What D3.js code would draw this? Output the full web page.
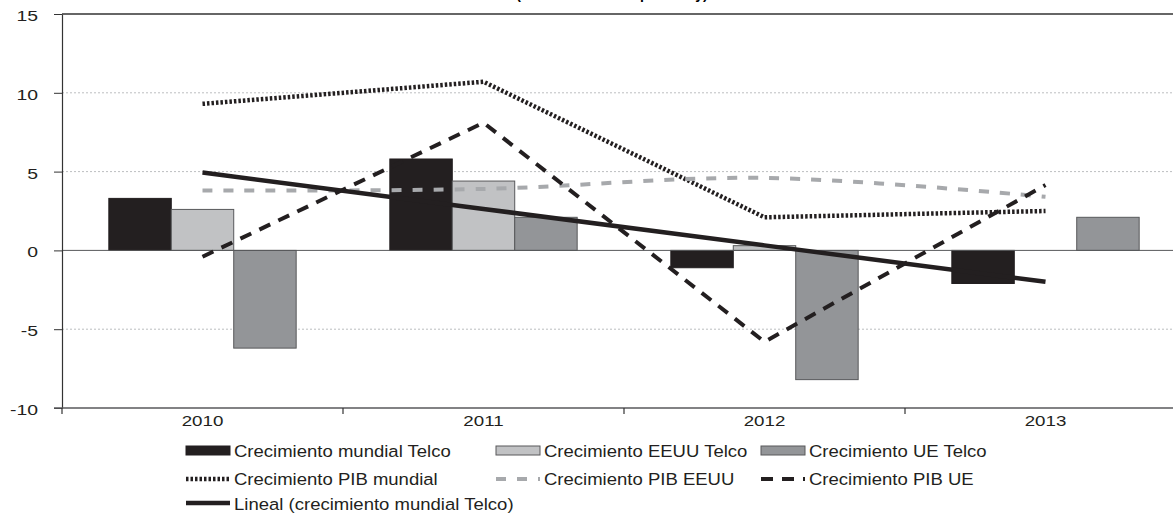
<!DOCTYPE html>
<html>
<head>
<meta charset="utf-8">
<script src="https://cdn.jsdelivr.net/npm/d3@7"></script>
<style>
  body { margin: 0; background: #fff; }
  svg { display: block; font-family: "Liberation Sans", Arial, sans-serif; }
</style>
</head>
<body>
<svg id="chart" width="1173" height="513"></svg>
<script>
// data
var years       = ['2010', '2011', '2012', '2013'];
var telcoWorld  = [3.3, 5.8, -1.1, -2.1];
var telcoUS     = [2.6, 4.4, 0.3, 0];
var telcoEU     = [-6.2, 2.1, -8.2, 2.1];
var gdpWorld    = [9.3, 10.7, 2.1, 2.5];
var gdpUS       = [3.8, 3.9, 4.6, 3.4];
var gdpEU       = [-0.4, 8.1, -5.8, 4.15];
var yTicks      = [-10, -5, 0, 5, 10, 15];
var barNames    = ['Crecimiento mundial Telco', 'Crecimiento EEUU Telco', 'Crecimiento UE Telco'];
var lineNames   = ['Crecimiento PIB mundial', 'Crecimiento PIB EEUU', 'Crecimiento PIB UE'];
var trendName   = 'Lineal (crecimiento mundial Telco)';
var title       = '(% de crecimiento por año y)';

var BLACK = '#231f20', LIGHT = '#c1c2c4', MID = '#939598', DGREY = '#a7a9ac';

var svg = d3.select('#chart');
var margin = {left: 62, top: 14, bottom: 105};
var plotW = 4 * 281, plotH = 513 - margin.top - margin.bottom;

var g = svg.append('g').attr('transform', 'translate(' + margin.left + ',' + margin.top + ')');

var x = d3.scaleBand().domain(years).range([0, plotW]);
var xs = d3.scaleBand().domain([0, 1, 2]).range([0, x.bandwidth()]).paddingOuter(0.75);
var y = d3.scaleLinear().domain([-10, 15]).range([plotH, 0]);

function stretch(sel, sx) {
    sel.each(function () {
        var t = d3.select(this);
        var tx = +t.attr('x') || 0, ty = +t.attr('y') || 0;
        t.attr('x', 0).attr('y', 0)
         .attr('transform', 'translate(' + tx + ',' + ty + ') scale(' + sx + ',1)');
    });
}

// title: the reference only shows the bottom of it, cut by the top edge
svg.append('text')
   .attr('x', 612).attr('y', -1)
   .attr('text-anchor', 'middle')
   .attr('font-weight', 'bold')
   .attr('font-size', 14)
   .text(title);

// dotted grid
g.selectAll('.grid')
 .data(yTicks.filter(function (d) { return d != 0 && d != 15 && d != -10; }))
 .enter().append('line')
   .attr('x1', 0).attr('x2', plotW)
   .attr('y1', function (d) { return y(d); })
   .attr('y2', function (d) { return y(d); })
   .attr('stroke', '#bcbec0').attr('stroke-width', 1)
   .attr('stroke-dasharray', '2,2');

// top border
g.append('line')
 .attr('x1', 0).attr('x2', plotW)
 .attr('y1', y(15)).attr('y2', y(15))
 .attr('stroke', '#333').attr('stroke-width', 1.5);

// bars
var series = [telcoWorld, telcoUS, telcoEU];
var fills  = [BLACK, LIGHT, MID];
var strokes = [BLACK, '#58595b', '#58595b'];
series.forEach(function (vals, s) {
    g.selectAll('.bar' + s)
     .data(vals)
     .enter().append('rect')
       .attr('x', function (d, i) { return x(years[i]) + xs(s); })
       .attr('y', function (d) { return y(Math.max(0, d)); })
       .attr('width', xs.bandwidth())
       .attr('height', function (d) { return Math.abs(y(d) - y(0)); })
       .attr('fill', fills[s])
       .attr('stroke', strokes[s]).attr('stroke-width', 1)
       .style('display', function (d) { return d == 0 ? 'none' : null; });
});

// zero line
g.append('line')
 .attr('x1', 0).attr('x2', plotW)
 .attr('y1', y(0)).attr('y2', y(0))
 .attr('stroke', '#58595b').attr('stroke-width', 1);

// y axis
var ya = g.append('g')
          .call(d3.axisLeft(y).tickValues(yTicks).tickSize(8).tickSizeOuter(0)
                  .tickFormat(function (d) { return String(d); }));
ya.select('.domain').attr('stroke', '#333').attr('stroke-width', 1.2);
ya.selectAll('.tick line').attr('stroke', '#333');
ya.selectAll('.tick text')
  .attr('font-size', 15.5).attr('fill', BLACK)
  .attr('font-family', '"Liberation Sans", Arial, sans-serif')
  .attr('x', -24).attr('dy', null).attr('y', 6.5)
  .call(stretch, 1.25);

// x axis
var xa = g.append('g')
          .attr('transform', 'translate(0,' + plotH + ')')
          .call(d3.axisBottom(x).tickSize(0).tickSizeOuter(0));
xa.select('.domain').attr('stroke', '#58595b').attr('stroke-width', 1.5)
  .attr('d', 'M-8,0H' + plotW);
xa.selectAll('.tick text')
  .attr('font-size', 15).attr('fill', BLACK)
  .attr('font-family', '"Liberation Sans", Arial, sans-serif')
  .attr('dy', null).attr('y', 17.5)
  .call(stretch, 1.25);
xa.selectAll('.sep')
  .data(years)
  .enter().append('line')
    .attr('x1', function (d) { return x(d); })
    .attr('x2', function (d) { return x(d); })
    .attr('y1', 0).attr('y2', 6)
    .attr('stroke', '#333').attr('stroke-width', 1.2);

// lines
var cx = function (d, i) { return x(years[i]) + x.bandwidth() / 2; };
var line = d3.line().x(cx).y(function (d) { return y(d); });
var smooth = d3.line().x(cx).y(function (d) { return y(d); }).curve(d3.curveCatmullRom);

var lineStyles = [
    {data: gdpWorld, color: BLACK, width: 4.5, dash: '2.5,2', gen: line},
    {data: gdpUS,    color: DGREY, width: 4,   dash: '10,11', gen: smooth},
    {data: gdpEU,    color: BLACK, width: 4,   dash: '12,9',  gen: line}
];
lineStyles.forEach(function (l) {
    g.append('path')
     .attr('d', l.gen(l.data))
     .attr('fill', 'none')
     .attr('stroke', l.color)
     .attr('stroke-width', l.width)
     .attr('stroke-dasharray', l.dash);
});

// linear trend of world telco growth
var n = telcoWorld.length;
var mx = (n + 1) / 2, my = d3.mean(telcoWorld);
var sxy = 0, sxx = 0;
telcoWorld.forEach(function (v, i) {
    sxy += (i + 1 - mx) * (v - my);
    sxx += (i + 1 - mx) * (i + 1 - mx);
});
var slope = sxy / sxx;
var trend = telcoWorld.map(function (v, i) { return my + slope * (i + 1 - mx); });
g.append('path')
 .attr('d', line(trend))
 .attr('fill', 'none')
 .attr('stroke', BLACK)
 .attr('stroke-width', 4.5);

// legend
var cols = [186, 496, 761];
var rows = [456.5, 485, 509.5];
var lg = svg.append('g');

function legendText(cx, cy, txt) {
    lg.append('text')
      .attr('x', cx + 48).attr('y', cy)
      .attr('font-size', 17).attr('fill', BLACK)
      .text(txt)
      .call(stretch, 1.09);
}

barNames.forEach(function (name, i) {
    lg.append('rect')
      .attr('x', cols[i]).attr('y', rows[0] - 10.5)
      .attr('width', 44).attr('height', 9)
      .attr('fill', fills[i]).attr('stroke', strokes[i]).attr('stroke-width', 1);
    legendText(cols[i], rows[0], name);
});
lineNames.forEach(function (name, i) {
    var s = lineStyles[i];
    lg.append('line')
      .attr('x1', cols[i]).attr('x2', cols[i] + 44)
      .attr('y1', rows[1] - 6).attr('y2', rows[1] - 6)
      .attr('stroke', s.color).attr('stroke-width', s.width)
      .attr('stroke-dasharray', s.dash);
    legendText(cols[i], rows[1], name);
});
lg.append('line')
  .attr('x1', cols[0]).attr('x2', cols[0] + 44)
  .attr('y1', rows[2] - 6.5).attr('y2', rows[2] - 6.5)
  .attr('stroke', BLACK).attr('stroke-width', 4.5);
legendText(cols[0], rows[2], trendName);
</script>
</body>
</html>
